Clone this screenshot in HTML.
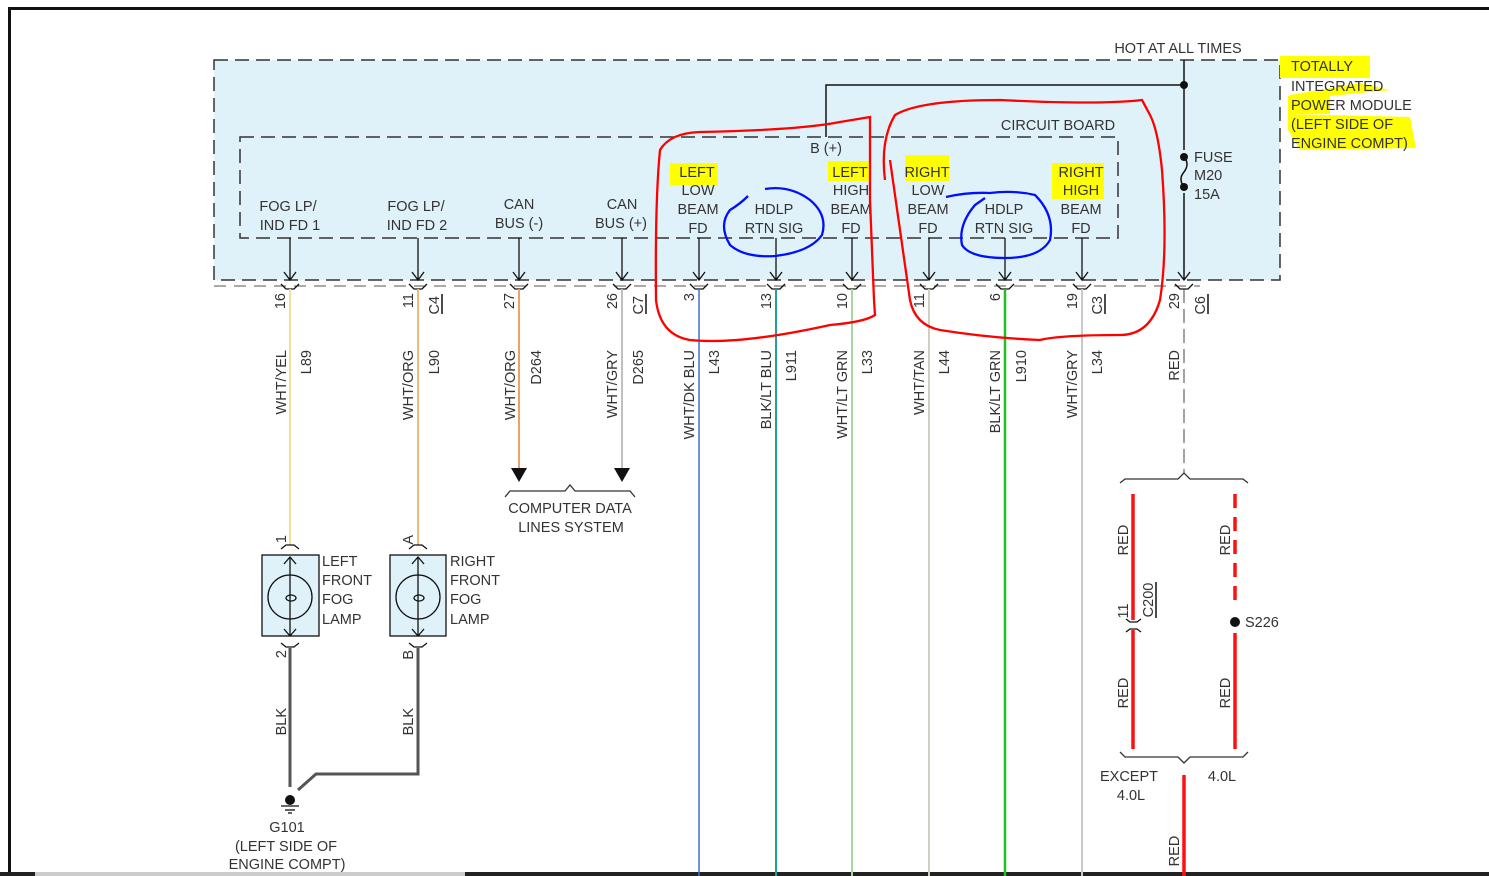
<!DOCTYPE html>
<html><head><meta charset="utf-8"><style>
html,body{margin:0;padding:0;background:#fff;width:1489px;height:876px;overflow:hidden}
svg{display:block}
text{font-family:"Liberation Sans",Arial,sans-serif;font-size:14.5px;fill:#333}
</style></head><body>
<svg width="1489" height="876" viewBox="0 0 1489 876" xmlns="http://www.w3.org/2000/svg">
<rect x="8" y="7" width="1481" height="3" fill="#111"/>
<rect x="8" y="7" width="3" height="869" fill="#111"/>
<rect x="0" y="872" width="35" height="4" fill="#222"/>
<rect x="35" y="872" width="430" height="4" fill="#ccc"/>
<rect x="465" y="872" width="1024" height="4" fill="#222"/>

<rect x="214" y="60" width="1066" height="220" fill="#e0f2f9" stroke="#333" stroke-width="1.5" stroke-dasharray="14,7"/>
<rect x="240" y="137" width="878" height="101" fill="none" stroke="#333" stroke-width="1.5" stroke-dasharray="14,7"/>
<line x1="214" y1="286" x2="1200" y2="286" stroke="#555" stroke-width="1" stroke-dasharray="12,8"/>

<g fill="#ffff00">
<rect x="670" y="163" width="48" height="22"/>
<rect x="828" y="161" width="42" height="20"/>
<rect x="905" y="155" width="44" height="26"/>
<rect x="1052" y="163" width="52" height="36"/>
<rect x="1280" y="56" width="90" height="22"/>
<path d="M1290 95 L1360 83 L1390 90 L1290 100 Z"/>
<rect x="1288" y="96" width="42" height="18"/>
<path d="M1288 114 L1410 117 L1416 148 L1300 150 L1288 130 Z"/>
</g>

<line x1="1184" y1="60" x2="1184" y2="150" stroke="#111" stroke-width="1.5"/>
<line x1="1184" y1="193" x2="1184" y2="280" stroke="#111" stroke-width="1.5"/>
<path d="M1184 157 q6 7 0 15 q-6 7 0 15" fill="none" stroke="#111" stroke-width="1.5"/>
<circle cx="1184" cy="157" r="4" fill="#111"/><circle cx="1184" cy="187" r="4" fill="#111"/>
<circle cx="1184" cy="85" r="4" fill="#111"/>
<polyline points="1184,85 826,85 826,137" fill="none" stroke="#111" stroke-width="1.5"/>
<text x="1178" y="53" text-anchor="middle">HOT AT ALL TIMES</text>
<text x="826" y="153" text-anchor="middle">B (+)</text>
<text x="1058" y="130" text-anchor="middle">CIRCUIT BOARD</text>
<text x="1194" y="162">FUSE</text><text x="1194" y="180">M20</text><text x="1194" y="199">15A</text>
<text x="1291" y="71">TOTALLY</text><text x="1291" y="91">INTEGRATED</text><text x="1291" y="110">POWER MODULE</text><text x="1291" y="129">(LEFT SIDE OF</text><text x="1291" y="148">ENGINE COMPT)</text>

<g text-anchor="middle">
<text x="288" y="211">FOG LP/</text><text x="290" y="230">IND FD 1</text>
<text x="416" y="211">FOG LP/</text><text x="417" y="230">IND FD 2</text>
<text x="519" y="209">CAN</text><text x="519" y="228">BUS (-)</text>
<text x="622" y="209">CAN</text><text x="621" y="228">BUS (+)</text>
<text x="697" y="177">LEFT</text><text x="698" y="195">LOW</text><text x="698" y="214">BEAM</text><text x="698" y="233">FD</text>
<text x="774" y="214">HDLP</text><text x="774" y="233">RTN SIG</text>
<text x="850" y="177">LEFT</text><text x="851" y="195">HIGH</text><text x="851" y="214">BEAM</text><text x="851" y="233">FD</text>
<text x="927" y="177">RIGHT</text><text x="928" y="195">LOW</text><text x="928" y="214">BEAM</text><text x="928" y="233">FD</text>
<text x="1004" y="214">HDLP</text><text x="1004" y="233">RTN SIG</text>
<text x="1081" y="177">RIGHT</text><text x="1081" y="195">HIGH</text><text x="1081" y="214">BEAM</text><text x="1081" y="233">FD</text>
</g>

<g stroke="#111" stroke-width="1.3" fill="none">
<path d="M290 238V280M284 272L290 280L296 272M281 284L286 289H294L299 284"/>
<path d="M418 238V280M412 272L418 280L424 272M409 284L414 289H422L427 284"/>
<path d="M519 238V280M513 272L519 280L525 272M510 284L515 289H523L528 284"/>
<path d="M622 238V280M616 272L622 280L628 272M613 284L618 289H626L631 284"/>
<path d="M699 238V280M693 272L699 280L705 272M690 284L695 289H703L708 284"/>
<path d="M776 238V280M770 272L776 280L782 272M767 284L772 289H780L785 284"/>
<path d="M852 238V280M846 272L852 280L858 272M843 284L848 289H856L861 284"/>
<path d="M929 238V280M923 272L929 280L935 272M920 284L925 289H933L938 284"/>
<path d="M1005 238V280M999 272L1005 280L1011 272M996 284L1001 289H1009L1014 284"/>
<path d="M1082 238V280M1076 272L1082 280L1088 272M1073 284L1078 289H1086L1091 284"/>
<path d="M1178 272L1184 280L1190 272M1175 284L1180 289H1188L1193 284"/>
</g>

<line x1="290" y1="289" x2="290" y2="545" stroke="#f0e0a0" stroke-width="2"/>
<line x1="418" y1="289" x2="418" y2="545" stroke="#f0b878" stroke-width="2"/>
<line x1="519" y1="289" x2="519" y2="470" stroke="#f0a060" stroke-width="2"/>
<line x1="622" y1="289" x2="622" y2="470" stroke="#c0c0c0" stroke-width="2"/>
<line x1="699" y1="289" x2="699" y2="876" stroke="#4070d0" stroke-width="1.5"/>
<line x1="776" y1="289" x2="776" y2="876" stroke="#20a0a0" stroke-width="2"/>
<line x1="852" y1="289" x2="852" y2="876" stroke="#a8d8a0" stroke-width="2"/>
<line x1="929" y1="289" x2="929" y2="876" stroke="#d0d0c0" stroke-width="2"/>
<line x1="1005" y1="289" x2="1005" y2="876" stroke="#20c020" stroke-width="2.5"/>
<line x1="1082" y1="289" x2="1082" y2="876" stroke="#c8c8d0" stroke-width="2"/>
<line x1="1184" y1="289" x2="1184" y2="474" stroke="#444" stroke-width="1" stroke-dasharray="14,6"/>

<polygon points="511,468 527,468 519,482" fill="#111"/>
<polygon points="614,468 630,468 622,482" fill="#111"/>
<path d="M505 497L510 491H565L570 485L575 491H630L635 497" fill="none" stroke="#333" stroke-width="1.3"/>
<text x="570" y="513" text-anchor="middle">COMPUTER DATA</text>
<text x="571" y="532" text-anchor="middle">LINES SYSTEM</text>

<g text-anchor="end">
<text transform="translate(286,350) rotate(-90)">WHT/YEL</text>
<text transform="translate(311,350) rotate(-90)">L89</text>
<text transform="translate(413,350) rotate(-90)">WHT/ORG</text>
<text transform="translate(439,350) rotate(-90)">L90</text>
<text transform="translate(515,350) rotate(-90)">WHT/ORG</text>
<text transform="translate(541,350) rotate(-90)">D264</text>
<text transform="translate(617,350) rotate(-90)">WHT/GRY</text>
<text transform="translate(643,350) rotate(-90)">D265</text>
<text transform="translate(694,350) rotate(-90)">WHT/DK BLU</text>
<text transform="translate(719,350) rotate(-90)">L43</text>
<text transform="translate(771,350) rotate(-90)">BLK/LT BLU</text>
<text transform="translate(796,350) rotate(-90)">L911</text>
<text transform="translate(847,350) rotate(-90)">WHT/LT GRN</text>
<text transform="translate(872,350) rotate(-90)">L33</text>
<text transform="translate(924,350) rotate(-90)">WHT/TAN</text>
<text transform="translate(949,350) rotate(-90)">L44</text>
<text transform="translate(1000,350) rotate(-90)">BLK/LT GRN</text>
<text transform="translate(1026,350) rotate(-90)">L910</text>
<text transform="translate(1077,350) rotate(-90)">WHT/GRY</text>
<text transform="translate(1102,350) rotate(-90)">L34</text>
<text transform="translate(1179,350) rotate(-90)">RED</text>
<text transform="translate(285,293) rotate(-90)">16</text>
<text transform="translate(413,293) rotate(-90)">11</text>
<text transform="translate(514,293) rotate(-90)">27</text>
<text transform="translate(617,293) rotate(-90)">26</text>
<text transform="translate(694,293) rotate(-90)">3</text>
<text transform="translate(771,293) rotate(-90)">13</text>
<text transform="translate(847,293) rotate(-90)">10</text>
<text transform="translate(924,293) rotate(-90)">11</text>
<text transform="translate(1000,293) rotate(-90)">6</text>
<text transform="translate(1077,293) rotate(-90)">19</text>
<text transform="translate(1179,293) rotate(-90)">29</text>
<text transform="translate(439,296) rotate(-90)">C4</text>
<text transform="translate(643,296) rotate(-90)">C7</text>
<text transform="translate(1102,296) rotate(-90)">C3</text>
<text transform="translate(1205,296) rotate(-90)">C6</text>
</g>
<g stroke="#111" stroke-width="1.5">
<line x1="442" y1="294" x2="442" y2="314"/><line x1="646" y1="294" x2="646" y2="314"/>
<line x1="1105" y1="294" x2="1105" y2="314"/><line x1="1208" y1="294" x2="1208" y2="314"/>
</g>

<g stroke="#111" stroke-width="1.3" fill="none">
<rect x="262" y="555" width="57" height="81" fill="#e0f2f9"/>
<rect x="390" y="555" width="56" height="81" fill="#e0f2f9"/>
<circle cx="290" cy="597" r="22"/><circle cx="418" cy="597" r="22"/>
<path d="M290 557V636M284 564L290 557L296 564M284 629L290 636L296 629"/>
<path d="M418 557V636M412 564L418 557L424 564M412 629L418 636L424 629"/>
<ellipse cx="291" cy="598" rx="5" ry="3"/><ellipse cx="419" cy="598" rx="5" ry="3"/>
<path d="M281 549L286 545H294L299 549M409 549L414 545H422L427 549"/>
<path d="M281 643L286 647H294L299 643M409 643L414 647H422L427 643"/>
</g>
<text x="322" y="566">LEFT</text><text x="322" y="585">FRONT</text><text x="322" y="604">FOG</text><text x="322" y="624">LAMP</text>
<text x="450" y="566">RIGHT</text><text x="450" y="585">FRONT</text><text x="450" y="604">FOG</text><text x="450" y="624">LAMP</text>
<g text-anchor="end">
<text transform="translate(286,535) rotate(-90)">1</text>
<text transform="translate(413,535) rotate(-90)">A</text>
<text transform="translate(286,650) rotate(-90)">2</text>
<text transform="translate(413,650) rotate(-90)">B</text>
<text transform="translate(286,708) rotate(-90)">BLK</text>
<text transform="translate(413,708) rotate(-90)">BLK</text>
</g>
<g stroke="#555" stroke-width="3" fill="none">
<line x1="290" y1="648" x2="290" y2="787"/>
<polyline points="418,648 418,774 316,774 298,790"/>
</g>
<circle cx="290" cy="800" r="5" fill="#111"/>
<g stroke="#111" stroke-width="1.3"><line x1="281" y1="806" x2="299" y2="806"/><line x1="285" y1="810" x2="295" y2="810"/><line x1="288" y1="813" x2="292" y2="813"/></g>
<text x="287" y="832" text-anchor="middle">G101</text>
<text x="286" y="851" text-anchor="middle">(LEFT SIDE OF</text>
<text x="287" y="869" text-anchor="middle">ENGINE COMPT)</text>

<path d="M1120 483L1125 479H1178L1184 473L1190 479H1243L1248 483" fill="none" stroke="#333" stroke-width="1.3"/>
<path d="M1120 752L1125 757H1178L1184 763L1190 757H1243L1248 752" fill="none" stroke="#333" stroke-width="1.3"/>
<g stroke="#ff1010" stroke-width="3.5">
<line x1="1133" y1="494" x2="1133" y2="620"/><line x1="1133" y1="630" x2="1133" y2="749"/>
<line x1="1235" y1="494" x2="1235" y2="605" stroke-dasharray="14,9"/>
<line x1="1235" y1="633" x2="1235" y2="749"/>
<line x1="1184" y1="775" x2="1184" y2="876"/>
</g>
<path d="M1126 619L1130 622H1137L1141 619M1126 632L1130 629H1137L1141 632" fill="none" stroke="#111" stroke-width="1.3"/>
<circle cx="1235" cy="622" r="5" fill="#111"/>
<text x="1245" y="627">S226</text>
<g text-anchor="middle">
<text transform="translate(1128,540) rotate(-90)">RED</text>
<text transform="translate(1230,540) rotate(-90)">RED</text>
<text transform="translate(1128,693) rotate(-90)">RED</text>
<text transform="translate(1230,693) rotate(-90)">RED</text>
<text transform="translate(1179,851) rotate(-90)">RED</text>
<text transform="translate(1128,611) rotate(-90)">11</text>
<text transform="translate(1153,600) rotate(-90)">C200</text>
</g>
<line x1="1156" y1="582" x2="1156" y2="618" stroke="#111" stroke-width="1.5"/>
<text x="1129" y="781" text-anchor="middle">EXCEPT</text>
<text x="1131" y="800" text-anchor="middle">4.0L</text>
<text x="1222" y="781" text-anchor="middle">4.0L</text>

<g fill="none" stroke="#ff0000" stroke-width="2.3">
<path d="M870 117 L840 122 Q800 130 700 132 Q670 133 660 150 Q655 200 656 300 Q660 335 690 340 Q740 345 830 325 Q865 322 875 315 L874 300 L870 200 Z"/>
<path d="M885 180 Q880 140 895 115 Q920 100 1000 100 Q1100 105 1142 100 L1150 115 Q1158 130 1162 170 Q1168 250 1160 300 Q1150 335 1120 335 Q1060 335 1040 340 Q990 338 940 330 Q915 325 910 300 L890 160"/>
</g>
<g fill="none" stroke="#0010ff" stroke-width="2.3">
<path d="M748 196 Q740 204 730 210 Q718 225 730 245 Q745 258 775 256 Q810 252 822 235 Q828 215 810 200 Q790 185 765 189"/>
<path d="M946 197 Q968 192 990 193 Q1014 190 1035 195 Q1055 215 1050 240 Q1040 258 1005 258 Q970 258 962 245 Q958 225 975 205 L985 198"/>
</g>
</svg>
</body></html>
